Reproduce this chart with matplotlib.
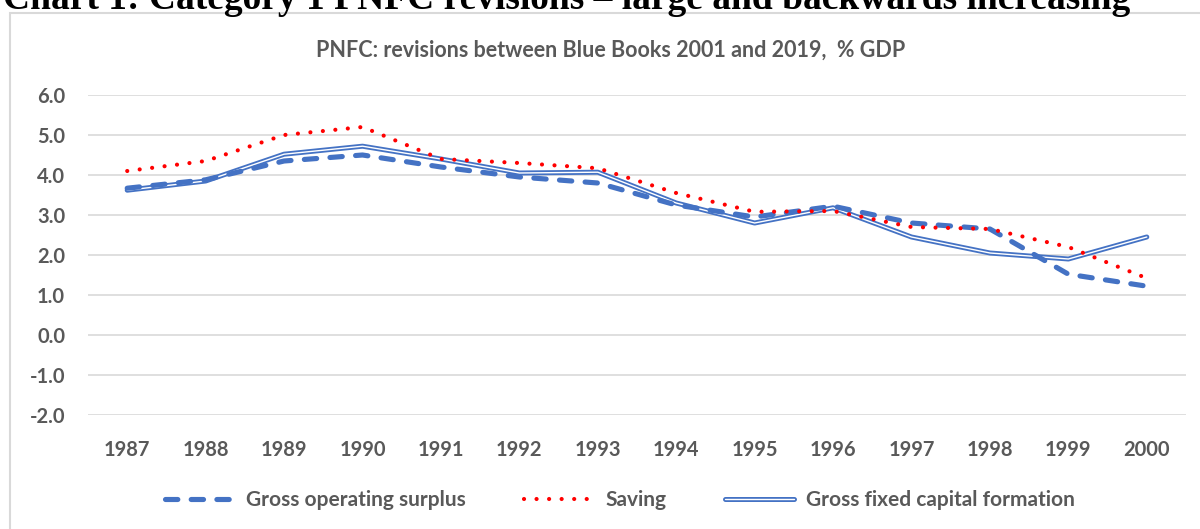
import matplotlib.pyplot as plt
import matplotlib.patheffects as pe
from matplotlib.patches import Rectangle

# Dados (% do PIB)
anos = ['1987', '1988', '1989', '1990', '1991', '1992', '1993',
        '1994', '1995', '1996', '1997', '1998', '1999', '2000']
gos = [3.67, 3.88, 4.35, 4.5, 4.2, 3.95, 3.8, 3.25, 2.95, 3.22, 2.8, 2.65, 1.52, 1.22]
saving = [4.1, 4.35, 5.0, 5.2, 4.4, 4.3, 4.17, 3.55, 3.08, 3.1, 2.7, 2.65, 2.2, 1.42]
gfcf = [3.62, 3.85, 4.52, 4.72, 4.4, 4.05, 4.07, 3.3, 2.8, 3.18, 2.45, 2.05, 1.9, 2.45]
yticks = [-2.0, -1.0, 0.0, 1.0, 2.0, 3.0, 4.0, 5.0, 6.0]

azul = '#4472C4'
vermelho = '#FF0000'
cinza = '#595959'

W, H = 1200, 529
fig = plt.figure(figsize=(12, 5.29), dpi=100)
fig.patch.set_facecolor('white')

# moldura do gráfico
fig.patches.append(Rectangle((10 / W, -0.05), 1.2, 1 - 13 / H + 0.05,
                             transform=fig.transFigure, fill=False,
                             edgecolor='#D9D9D9', linewidth=1.5))

# título do documento (cortado no topo)
fig.text(3 / W, 1 - 9 / H, 'Chart 1: Category 1 PNFC revisions \u2013 large and backwards increasing',
         fontfamily='Liberation Serif', fontweight='bold', fontsize=27,
         ha='left', va='baseline', color='black')

ax = fig.add_axes([88 / W, 1 - 415 / H, (1186 - 88) / W, 320 / H])
x = list(range(len(anos)))

ax.plot(x, gos, color=azul, linewidth=3.7, dashes=(2.4, 2.6),
        dash_capstyle='round', solid_capstyle='round', label='Gross operating surplus', zorder=3)
ax.plot(x, saving, color=vermelho, linewidth=3.0, dashes=(0.01, 3.0),
        dash_capstyle='round', label='Saving', zorder=4)
ax.plot(x, gfcf, color='white', linewidth=1.0, solid_capstyle='round',
        path_effects=[pe.Stroke(linewidth=3.6, foreground=azul), pe.Normal()],
        label='Gross fixed capital formation', zorder=2)

ax.set_xlim(-0.5, len(anos) - 0.5)
ax.set_ylim(-2, 6)
ax.set_yticks(yticks)
ax.set_yticklabels([f'{v:.1f}' for v in yticks])
ax.set_xticks(x)
ax.set_xticklabels(anos)
ax.grid(axis='y', color='#D9D9D9', linewidth=1.2)
ax.set_axisbelow(True)
for s in ax.spines.values():
    s.set_visible(False)
ax.tick_params(length=0, labelsize=14.5, labelcolor=cinza)
ax.tick_params(axis='y', pad=16.5)
ax.tick_params(axis='x', pad=18)
for lab in ax.get_xticklabels() + ax.get_yticklabels():
    lab.set_fontfamily('Lato')
    lab.set_fontweight('bold')

fig.text(611 / W, 1 - 50 / H, 'PNFC: revisions between Blue Books 2001 and 2019,  % GDP',
         fontfamily='Lato', fontweight='bold', fontsize=15.5, color=cinza, ha='center', va='center')

leg = fig.legend(loc='center', bbox_to_anchor=(620 / W, 1 - 500 / H), ncol=3,
                 frameon=False, handlelength=3.3, handletextpad=0.6, columnspacing=2.8,
                 prop={'family': 'Lato', 'weight': 'bold', 'size': 15})
for t in leg.get_texts():
    t.set_color(cinza)

plt.savefig('out.png', dpi=100)
